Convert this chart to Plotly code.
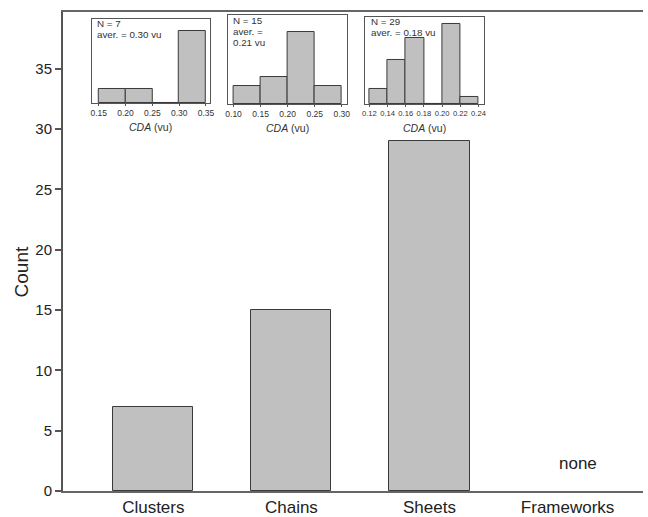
import plotly.graph_objects as go

# Main chart: number of structures per dimensionality class
categories = ["Clusters", "Chains", "Sheets", "Frameworks"]
counts = [7, 15, 29, 0]
y_ticks = [0, 5, 10, 15, 20, 25, 30, 35]

# CDA histograms (left bin edges, bin width, counts) for each class
cluster_edges = [0.15, 0.20, 0.25, 0.30]
cluster_counts = [1, 1, 0, 5]
cluster_width = 0.05
cluster_ticks = [0.15, 0.20, 0.25, 0.30, 0.35]

chain_edges = [0.10, 0.15, 0.20, 0.25]
chain_counts = [2, 3, 8, 2]
chain_width = 0.05
chain_ticks = [0.10, 0.15, 0.20, 0.25, 0.30]

sheet_edges = [0.12, 0.14, 0.16, 0.18, 0.20, 0.22]
sheet_counts = [2, 6, 9, 0, 11, 1]
sheet_width = 0.02
sheet_ticks = [0.12, 0.14, 0.16, 0.18, 0.20, 0.22, 0.24]

cluster_note = ["N = 7", "aver. = 0.30 vu"]
chain_note = ["N = 15", "aver. =", "0.21 vu"]
sheet_note = ["N = 29", "aver. = 0.18 vu"]

FONT = "Liberation Sans, Arial, sans-serif"
BAR_FILL = "#c0c0c0"
BAR_EDGE = "#3a3a3a"
AXIS = "#555555"
TEXT = "#222222"

# plot area in pixels: used to convert pixel offsets to paper units
PLOT_H = 517 - 12 - 26

fig = go.Figure()

fig.add_trace(go.Bar(
    x=categories, y=counts, width=0.58,
    marker=dict(color=BAR_FILL,
                line=dict(color=BAR_EDGE,
                          width=[1 if c > 0 else 0 for c in counts])),
    xaxis="x", yaxis="y", showlegend=False,
))

insets = [
    (cluster_edges, cluster_counts, cluster_width, cluster_ticks, cluster_note,
     [0.137, 0.357], [0, 5.85], [0.0496, 0.2530], [0.810, 0.9854]),
    (chain_edges, chain_counts, chain_width, chain_ticks, chain_note,
     [0.089, 0.309], [0, 9.9], [0.2838, 0.4889], [0.8079, 0.9937]),
    (sheet_edges, sheet_counts, sheet_width, sheet_ticks, sheet_note,
     [0.1156, 0.2465], [0, 11.9], [0.5214, 0.7265], [0.8079, 0.9896]),
]

layout_axes = {}
annotations = []
for i, (edges, cnts, w, ticks, note, xr, yr, xdom, ydom) in enumerate(insets, start=2):
    fig.add_trace(go.Bar(
        x=edges, y=cnts, width=[w] * len(edges), offset=0,
        marker=dict(color=BAR_FILL, line=dict(color=BAR_EDGE, width=1)),
        xaxis=f"x{i}", yaxis=f"y{i}", showlegend=False,
    ))
    layout_axes[f"xaxis{i}"] = dict(
        domain=xdom, range=xr, anchor=f"y{i}",
        tickvals=ticks, ticktext=[f"{t:.2f}" for t in ticks], tickangle=0,
        ticks="outside", ticklen=2, tickcolor=AXIS,
        tickfont=dict(size=8.5 if len(ticks) < 6 else 7.6,
                      color="#333333", family=FONT),
        showline=True, linecolor=AXIS, linewidth=1, mirror=True,
        showgrid=False, zeroline=False, fixedrange=True,
    )
    layout_axes[f"yaxis{i}"] = dict(
        domain=ydom, range=yr, anchor=f"x{i}",
        showticklabels=False, ticks="",
        showline=True, linecolor=AXIS, linewidth=1, mirror=True,
        showgrid=False, zeroline=False, fixedrange=True,
    )
    # Axis caption under each inset
    annotations.append(dict(
        text="<i>CDA</i> (vu)", xref="paper", yref="paper",
        x=(xdom[0] + xdom[1]) / 2, y=ydom[0] - 0.05,
        xanchor="center", yanchor="middle", showarrow=False,
        font=dict(size=10.5, color="#333333", family=FONT),
    ))
    # Sample size and average, one line at a time in the inset corner
    for k, line in enumerate(note):
        annotations.append(dict(
            text=line, xref="paper", yref="paper",
            x=xdom[0] + 0.006, y=ydom[1] - (5 + 11 * k) / PLOT_H,
            xanchor="left", yanchor="middle", showarrow=False,
            font=dict(size=9.8, color="#333333", family=FONT),
        ))

annotations.append(dict(
    text="none", xref="x", yref="y", x="Frameworks", y=2.3,
    xshift=10, showarrow=False,
    font=dict(size=17, color=TEXT, family=FONT),
))
annotations.append(dict(
    text="Count", xref="paper", yref="paper", x=-0.0718, y=0.457,
    textangle=-90, xanchor="center", yanchor="middle", showarrow=False,
    font=dict(size=19, color=TEXT, family=FONT),
))

fig.update_layout(
    width=648, height=517,
    margin=dict(l=63, r=0, t=12, b=26),
    paper_bgcolor="white", plot_bgcolor="white",
    font=dict(family=FONT, color=TEXT),
    bargap=0,
    xaxis=dict(
        domain=[0, 1], range=[-0.654, 3.546], anchor="y",
        ticks="", tickfont=dict(size=17, color=TEXT),
        showline=True, linecolor="#666666", linewidth=2, mirror=True,
        showgrid=False, zeroline=False, automargin=False,
    ),
    yaxis=dict(
        domain=[0, 1], range=[0, 39.7], anchor="x",
        tickvals=y_ticks, ticks="outside", ticklen=6, tickcolor=AXIS,
        tickwidth=1.5, tickfont=dict(size=15, color=TEXT),
        showline=True, linecolor=AXIS, linewidth=2,
        showgrid=False, zeroline=False, automargin=False,
    ),
    annotations=annotations,
    **layout_axes,
)

fig.write_html("out.html")
